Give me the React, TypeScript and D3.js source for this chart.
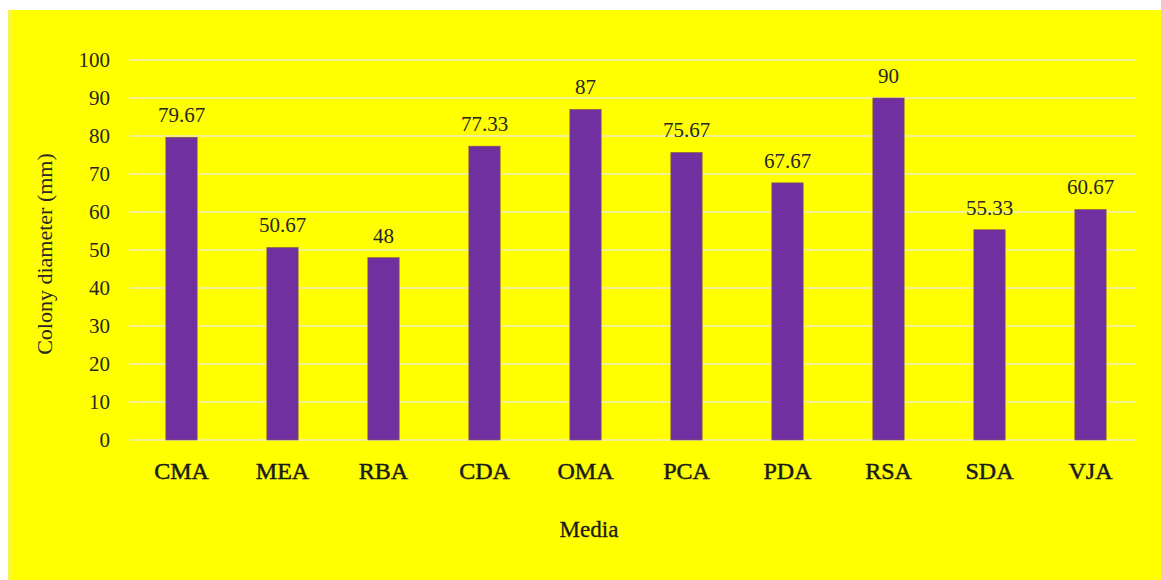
import React from "react";
import * as d3 from "d3";

const categories = ["CMA", "MEA", "RBA", "CDA", "OMA", "PCA", "PDA", "RSA", "SDA", "VJA"];
const values = [79.67, 50.67, 48, 77.33, 87, 75.67, 67.67, 90, 55.33, 60.67];
const labels = ["79.67", "50.67", "48", "77.33", "87", "75.67", "67.67", "90", "55.33", "60.67"];
const yTicks = [0, 10, 20, 30, 40, 50, 60, 70, 80, 90, 100];

const W = 1161;
const H = 580;
const FONT = "'Liberation Serif', 'Times New Roman', serif";

export default function App() {
  const x = d3.scaleBand<string>().domain(categories).range([131, 1141]).paddingInner(0.69).paddingOuter(0.345);
  const y = d3.scaleLinear().domain([0, 100]).range([440, 60]);
  return (
    <svg width={W} height={H} style={{ position: "absolute", left: 0, top: 0 }}>
      <rect x={0} y={0} width={W} height={H} fill="#ffffff" />
      <rect x={8} y={10} width={W - 8} height={H - 10} fill="#ffff00" />
      <rect x={8} y={10} width={4} height={H - 10} fill="#f6f64a" />
      {yTicks.map((t) => (
        <g key={t}>
          <line x1={130} x2={1136} y1={y(t)} y2={y(t)} stroke="#f2f290" strokeWidth={2} />
          <text x={110} y={y(t)} dy="0.35em" textAnchor="end" fontFamily={FONT} fontSize={21} fill="#262626">
            {t}
          </text>
        </g>
      ))}
      {categories.map((c, i) => {
        const bx = x(c)!;
        const bw = x.bandwidth();
        return (
          <g key={c}>
            <rect x={bx} y={y(values[i])} width={bw} height={y(0) - y(values[i])} fill="#7030a0" stroke="#8a5a40" strokeWidth={0.6} />
            <text x={bx + bw / 2} y={y(values[i]) - 15} textAnchor="middle" fontFamily={FONT} fontSize={21} fill="#262626">
              {labels[i]}
            </text>
            <text x={bx + bw / 2} y={479} textAnchor="middle" fontFamily={FONT} fontSize={24} fill="#1a1a1a" stroke="#1a1a1a" strokeWidth={0.5}>
              {c}
            </text>
          </g>
        );
      })}
      <text x={589} y={537} textAnchor="middle" fontFamily={FONT} fontSize={23} fill="#1a1a1a" stroke="#1a1a1a" strokeWidth={0.3}>
        Media
      </text>
      <text transform="translate(52,254) rotate(-90)" textAnchor="middle" fontFamily={FONT} fontSize={22} fill="#262626">
        Colony diameter (mm)
      </text>
    </svg>
  );
}
